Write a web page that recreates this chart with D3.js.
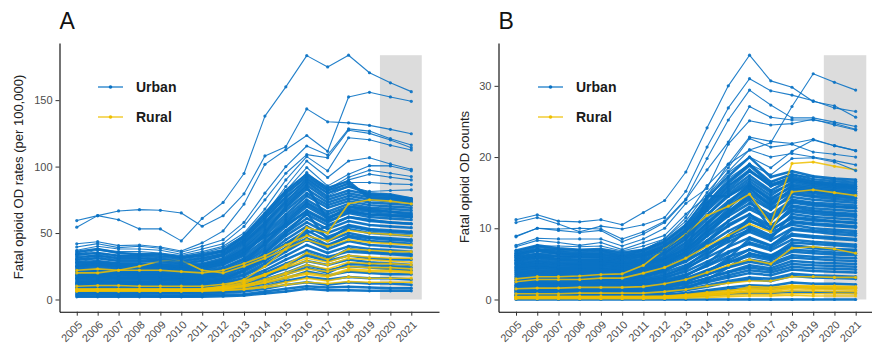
<!DOCTYPE html>
<html><head><meta charset="utf-8">
<script src="https://cdn.jsdelivr.net/npm/d3@7"></script>
<style>
body{margin:0;background:#fff}
svg{display:block}
text{font-family:"Liberation Sans",Arial,Helvetica,sans-serif}
</style>
</head><body>
<svg id="chart" width="872" height="351"></svg>
<script>
const years = [2005,2006,2007,2008,2009,2010,2011,2012,2013,2014,2015,2016,2017,2018,2019,2020,2021];
const panelLabels = ["A","B"];
const yTitles = ["Fatal opioid OD rates (per 100,000)","Fatal opioid OD counts"];
const legendLabels = ["Urban","Rural"];
const ticksRates = [0,50,100,150];
const ticksCounts = [0,10,20,30];
const shadeYears = [2019.5,2021.5];

// Urban counties with the highest rates (drawn individually)
const ratesUrbanHigh = [
[59.4,63.1,60,53.1,53.1,44.1,61,73,94.8,138,160,183.5,175,183.8,170.6,163,156.4],
[54.4,63.1,66.6,67.6,67.1,65.1,55.1,63,79.5,108,115,143.4,133.7,132.9,131,128,124.7],
[41.9,43.5,40.5,41,39.5,36.5,42.6,51.6,71.8,101.7,112.7,123.4,111.5,152.4,155.9,152.4,149.1],
[39.5,42,39,40,38.5,35.5,40,45,58,80,100,115.5,108.7,128.4,126.7,121,116.2],
[37,40,38,38,37,34,38,42,55,75,95,109,106.7,127.4,125,120,114.2],
[35,38,36,36,35,33,36,40,50,68,90,107.5,96.8,121.7,120.2,116,112.5],
[34,37,35,34,34,32,35,39,48,64,85,104.2,91.8,104.2,106.7,102,98],
[33,35,33,33,33,31,33,37,46,62,82,99.3,85.5,94.3,100.7,100.5,96.8],
[31,34,32,32,31,30,32,36,45,60,80,95.5,83,92,97.3,95,92.5],
[30,33,31,31,30,29,31,35,44,58,78,93.5,82,90,94.3,92,90],
[29,32,30,30,29,28,30,34,43,57,76,91,80,88,88,87,86.5],
[28,31,29,29,28,27,29,33,42,56,74,89,78,85,81.3,82,82.5]
];
// Remaining urban counties (dense band)
const ratesUrbanCore = [
[2,2,2,2,2,2,2,2.5,3,4.5,6,8,7,7,6.5,6.5,6.5],
[3,3,3,3,2.5,2.5,3,3.5,4,6,8,10,9,9.5,9,8.5,8.5],
[4,4.5,4,4,4,3.5,4,5,6,8,11,13,11,13,12,12,11],
[5,5.5,5,5.5,5,5,5,6,7.5,10,14,17,15,17,16,16,15],
[6,6,6.5,6,6,5.5,6,7,9,12,16,21,18,21,20,19,19],
[8,8.5,8,8,8,7.5,8,9,11,15,20,26,22,25,24,23,22],
[9,9.5,9,9,9.5,9,9,10.5,13,18,23,29,26,30,28,27,26],
[10,11,10.5,10,10,9.5,10,12,15,20,27,33,29,33,31,30,30],
[11,12,11,11.5,11,10.5,11,13,16,22,30,37,32,36,35,34,33],
[12,13,12,12,12,11,12,14,18,25,33,41,35,40,38,37,36],
[13,14,13,13,13,12,13,15,19,27,36,45,38,44,41,40,39],
[14,15,14,14,14,13,14,16,21,29,39,49,41,47,44,43,42],
[15,16,15,15.5,15,14,15,17,22,31,42,52,44,50,47,46,45],
[16,17.5,16,16,16,15,16,18,24,33,45,55,47,53,50,49,48],
[17,18,17,17,17,16,17,20,25,35,48,58,50,56,53,52,51],
[18,19,18,18,18,17,18,21,27,37,50,61,53,59,56,55,54],
[19,20.5,19,19,19,18,19,22,28,39,52,64,56,62,59,58,57],
[20,21,20,20,20,19,20,23,30,41,55,67,59,65,62,61,60],
[21,22,21,21,21,20,21,24,31,43,57,70,61,67,64,63,62],
[22,23,22,22,22,21,22,26,33,45,60,73,64,70,67,66,65],
[23,24,23,23,23,22,23,27,35,48,62,75,66,72,69,68,67],
[24,25.5,24,24,24,23,24,28,36,50,64,78,69,74,71,70,69],
[25,27,25,25,25,24,25,29,38,52,67,80,71,76,73,72,71],
[26,28,26,26,26,25,26,30,39,54,69,83,73,78,75,74,73],
[28,29,27,27,27,26,27,31,41,56,72,86,75,80,77,76,75],
[30,31,29,29,29,27,29,33,43,58,74,88,77,82,79,78,76],
[32,33,31,31,30,29,31,34,45,61,77,90,80,85,80,79,76],
[34,35,33,33,32,31,33,36,47,63,80,92,82,87,78,77,75],
[36,38,35,34,34,32,34,37,48,65,82,94,84,89,76,75,74],
[12,13,12,12,12,11,12,15,22,35,50,65,45,55,52,51,50],
[20,21,20,20,19,18,19,21,26,33,42,50,55,62,60,58,57],
[8,8.5,8,8,8,7.5,8,9.5,12,17,24,35,30,38,36,35,34],
[25,26,25,25,24,23,24,27,34,50,70,85,60,70,68,66,64],
[16,17,16,16,15,15,16,19,28,42,58,72,62,68,66,64,63],
[27,28,27,27,26,25,26,29,37,47,56,66,58,66,64,63,62],
[6.5,7,7,7,6.5,6,7,8,10,14,19,24,20,27,26,25,24],
[18,19,19,18,18,17,18,20,24,30,38,46,40,48,46,45,44]
];
const ratesRural = [
[7,7,7,7,7,7,7,8,10,13,17,20,18,23,22,22,21],
[6.8,7,7,7,6.8,6.8,7,7.5,9.5,12.5,16,19,17,22,21,21,20],
[7.3,7.3,7.3,7.3,7.3,7.3,7.4,8.5,11,14,19,23,21,25,24,24,23],
[10,10.5,10.5,10,10,10,10,11.5,14,19,24,29,26,31,30,29,28],
[6.5,6.6,6.6,6.6,6.5,6.5,6.6,7,8,10,13,16,14,17,16,16,16],
[22,23,22,22,22,21,20,22,27,33,41,48,44,52,50,49,48],
[20,20,22,25,29,29.5,22,20,25,31,38,45,40,45,43,42,41],
[7.5,7.6,7.6,7.6,7.6,7.5,8,10,15,25,38,54,50,72,75,74,72],
[7,7.1,7.1,7.1,7,7,7.1,8,10.5,15,20,26,23,28,27,27,26],
[7.8,7.8,7.8,7.8,7.8,7.8,8,9.5,13,19,25,31,28,33,32,31,31],
[6.2,6.2,6.2,6.2,6.2,6.2,6.3,6.8,7.5,9,11,13,12,13.5,13,13,13],
[7.6,7.7,7.7,7.7,7.7,7.6,7.8,9,12,18,26,35,30,38,37,36,36]
];
const countsUrbanHigh = [
[11.2,11.9,11,10.9,11.2,10.5,12.2,13.9,17.9,24.1,30,34.3,30.7,29.8,27.8,27.2,25.6],
[10.8,11.5,10.6,9.5,10.3,9.9,10.5,11.5,15.2,21.4,26.9,31,29.3,28.7,27.9,26.9,26.4],
[8.9,10,9.9,10,9.9,8.5,9.5,11,14.1,19.8,25.2,29.4,27.3,25.5,25.5,24.9,24.3],
[8.8,10,9.7,9.4,9.7,8.1,9.2,10.8,14,18.2,22.1,27.1,25.6,25.2,25.2,24.7,23.9],
[7.6,8.6,8.5,8.5,8.5,7.5,8.5,10,13.5,15.6,21.8,25.1,24.5,24.7,25.3,24.5,23.8],
[7.4,8.3,8,7.6,8,7,8,9,12,14.5,19,22.8,22.2,21.9,22.5,21.6,20.9],
[6.8,7.5,7.5,7.4,7.5,6.8,7.5,8.5,11.5,16,19,21,22,27.1,31.7,30.5,29.4],
[6.5,7,7,7,7,6,7,8.5,11,15,18.5,22.6,21.4,21.8,20.7,20.4,20],
[6.2,7,6.8,6.6,6.8,6,6.8,8,10.5,14.5,18,21,20,20.5,20,19.5,18.9],
[6,6.5,6.5,6.2,6.2,5.8,6.5,7.5,10,14,17.8,20,18.5,20.8,22.4,21.6,20.9],
[5.5,6.2,6,6,6,5.5,6,7,9.5,13.5,17,19,17.5,19.8,19.9,19.3,18.1],
[5.2,6,6,5.9,5.8,5.3,5.8,6.8,9,12.5,16,18,16.5,17.5,17.2,16.8,16.6]
];
const countsUrbanCore = [
[0,0,0,0,0,0,0,0,0,0,0,0,0,0,0,0,0],
[0.2,0.3,0.2,0.3,0.2,0.2,0.3,0.3,0.4,0.6,0.8,0.9,0.9,1.1,1,1,0.9],
[0.5,0.6,0.5,0.5,0.6,0.5,0.5,0.7,0.9,1.3,1.7,2,1.9,2.4,2.2,2.2,2.1],
[0.8,0.9,0.8,0.9,0.8,0.8,0.9,1,1.3,1.8,2.4,2.8,2.6,3.3,3.1,3,2.9],
[1.1,1.3,1.2,1.1,1.2,1.1,1.2,1.4,1.7,2.4,3.1,3.7,3.4,4.2,4,3.9,3.8],
[1.4,1.5,1.5,1.4,1.4,1.3,1.5,1.7,2.2,3,3.8,4.5,4.1,5,4.8,4.7,4.6],
[1.7,1.9,1.7,1.8,1.7,1.6,1.8,2.1,2.6,3.5,4.5,5.3,4.8,5.9,5.7,5.5,5.4],
[2,2.2,2.1,2,2.1,1.9,2.1,2.4,3,4.1,5.2,6.1,5.5,6.7,6.5,6.3,6.2],
[2.3,2.5,2.3,2.4,2.3,2.2,2.4,2.8,3.5,4.7,6,7,6.2,7.6,7.3,7.1,7],
[2.6,2.8,2.7,2.6,2.7,2.5,2.7,3.1,3.9,5.3,6.7,7.8,6.9,8.4,8.1,7.9,7.7],
[2.9,3.1,3,2.9,3,2.8,3,3.5,4.4,5.9,7.4,8.7,7.6,9.2,8.9,8.7,8.5],
[3.2,3.5,3.3,3.2,3.2,3,3.3,3.8,4.8,6.5,8.1,9.5,8.3,10,9.7,9.5,9.3],
[3.5,3.8,3.6,3.5,3.5,3.3,3.6,4.2,5.3,7.1,8.9,10.3,9,10.8,10.5,10.3,10.1],
[3.8,4.1,3.9,3.8,3.9,3.6,3.9,4.5,5.7,7.7,9.6,11.1,9.7,11.6,11.3,11,10.8],
[4.1,4.5,4.2,4.1,4.2,3.9,4.2,4.9,6.2,8.3,10.3,11.9,10.4,12.4,12,11.8,11.6],
[4.4,4.8,4.5,4.4,4.4,4.2,4.5,5.2,6.6,8.9,11,12.7,11.2,13.2,12.8,12.6,12.4],
[4.7,5.1,4.8,4.7,4.7,4.5,4.8,5.6,7.1,9.5,11.7,13.5,11.9,14,13.6,13.4,13.2],
[5,5.4,5.1,5,5,4.8,5.1,5.9,7.5,10.1,12.4,14.3,12.6,14.8,14.4,14.1,13.9],
[5.3,5.8,5.4,5.3,5.3,5.1,5.4,6.3,8,10.7,13.1,15.1,13.3,15.5,15.1,14.8,14.6],
[5.6,6.1,5.7,5.6,5.6,5.4,5.7,6.6,8.4,11.3,13.8,15.9,14,16,15.6,15.3,15.1],
[5.9,6.4,6,5.9,5.9,5.6,6,7,8.9,11.9,14.5,16.6,14.6,16.5,16,15.7,15.5],
[6.2,6.8,6.4,6.2,6.3,5.9,6.3,7.3,9.3,12.5,15.2,17.4,15.3,16.9,16.3,16,15.8],
[6.5,7.1,6.7,6.5,6.6,6.2,6.6,7.7,9.8,13.1,15.9,18.2,15.9,17.3,16.6,16.3,16.1],
[6.7,7.4,7,6.8,6.9,6.4,6.9,8,10.2,13.6,16.6,19,16.5,17.6,16.9,16.6,16.4],
[3,3.2,3.1,3,3,2.9,3.2,4,5.5,8,10.5,12,9.5,10.5,10,9.8,9.6],
[4.5,4.7,4.4,4.3,4.2,4,4.1,4.6,5.5,7,8.5,9.8,8.5,12,11.6,11.4,11.2],
[1.5,1.6,1.5,1.6,1.5,1.4,1.6,2,2.8,4,5.5,7,6,8,7.8,7.6,7.4],
[5.8,6,5.6,5.5,5.4,5,5.2,5.8,7,9.5,12,14,10,13,12.5,12.2,12],
[2.1,2.3,2.2,2.1,2.2,2,2.2,2.6,3.4,4.8,6.5,8,7.2,9,8.7,8.5,8.3],
[6.9,7.6,7.2,7,7.1,6.6,7,8.2,10.5,14.3,17.3,20,17.2,18,17.3,17,16.8],
[3.6,3.9,3.7,3.6,3.6,3.4,3.7,4.4,6,9,12,14.5,11,13.8,13.4,13.1,12.9],
[2.7,2.9,2.8,2.8,2.8,2.6,2.8,3.3,4.6,6.8,9,11,9.8,11.4,11.1,10.9,10.7],
[4.9,5.2,4.9,4.9,4.9,4.6,4.9,5.5,6.6,14.5,14.5,16.2,13.8,15.2,14.9,14.6,14.3],
[0.6,0.7,0.6,0.7,0.7,0.6,0.7,0.9,1.5,2.8,4.5,6.5,5.8,7.5,7.2,7,6.8],
[1.2,1.3,1.3,1.2,1.3,1.2,1.3,1.6,2.4,3.8,5.8,8.5,7.5,9.8,9.5,9.2,9],
[1.8,2,1.9,1.9,1.9,1.8,2,2.4,3.3,5,7.5,10,8.8,11,10.7,10.5,10.3],
[2.4,2.6,2.5,2.5,2.5,2.3,2.5,3,4.2,6.2,8.5,11.5,10.2,12.6,12.3,12,11.8],
[3.3,3.6,3.4,3.4,3.4,3.2,3.5,4.1,5.6,8.2,11,13,11.6,13.6,13.2,13,12.8],
[4.2,4.5,4.3,4.2,4.3,4,4.3,5,6.8,9.8,12.8,15.5,13.5,15,14.6,14.4,14.2],
[5.1,5.5,5.2,5.1,5.1,4.9,5.2,6,7.8,10.8,13.5,16.2,14.2,15.8,15.4,15.1,14.9],
[5.5,5.9,5.6,5.5,5.5,5.2,5.5,6.5,8.6,11.8,14.8,17,15,16.2,15.8,15.5,15.2],
[6,6.4,6.1,6,6,5.7,6.1,7.1,9.2,12.8,15.5,18,16,16.7,16.2,15.9,15.6],
[6.3,6.9,6.5,6.3,6.4,6,6.4,7.5,9.6,13.3,16.3,18.8,16.2,17,16.5,16.2,15.9],
[3.9,4.2,4,3.9,3.9,3.7,4,4.8,6.5,9.4,12.3,14.8,12.8,14.4,14,13.8,13.6],
[4.6,4.9,4.6,4.6,4.6,4.3,4.6,5.4,7.3,10.4,13.4,15.7,13,15.6,15.2,15,14.7],
[0.4,0.5,0.4,0.5,0.4,0.4,0.5,0.6,0.8,1.1,1.4,1.6,1.5,1.8,1.7,1.6,1.6],
[0.7,0.8,0.7,0.8,0.8,0.7,0.8,1,1.4,2,2.6,3.1,2.9,3.6,3.4,3.3,3.2],
[1,1.1,1,1.1,1,1,1.1,1.3,1.8,2.6,3.4,4.1,3.8,4.6,4.4,4.3,4.2],
[1.3,1.4,1.4,1.3,1.4,1.2,1.4,1.6,2.1,3,3.9,4.8,4.4,5.4,5.2,5.1,5],
[1.6,1.7,1.6,1.6,1.6,1.5,1.7,1.9,2.5,3.5,4.6,5.6,5.1,6.2,6,5.9,5.8],
[1.9,2.1,2,2,2,1.8,2,2.3,2.9,4,5.2,6.4,5.8,7,6.8,6.6,6.5]
];
const countsRural = [
[2.9,3.2,3.2,3.3,3.5,3.6,4.8,7.1,9.2,11.8,13.1,14.8,10.6,19.1,19.3,18.7,18.2],
[2.5,2.8,2.8,2.8,3,3,3.7,4.5,5.8,7.5,9,10.6,9.5,15.1,15.4,15,14.6],
[1.5,1.6,1.6,1.7,1.7,1.7,1.8,2.2,2.8,3.8,4.8,5.6,5,7.2,7.4,7.1,6.5],
[0.8,0.8,0.8,0.9,0.9,0.9,0.9,1.1,1.4,1.9,2.3,2.6,2.6,3.2,3.2,3.1,3.1],
[0.3,0.35,0.35,0.35,0.35,0.35,0.35,0.4,0.6,0.8,1,1.2,1.1,1.5,1.4,1.4,1.3],
[0.3,0.3,0.3,0.3,0.3,0.3,0.3,0.35,0.5,0.7,0.9,1,1,1.2,1.2,1.1,1.1],
[0.4,0.4,0.4,0.4,0.4,0.4,0.4,0.5,0.7,1,1.3,1.5,1.4,1.9,1.8,1.8,1.7],
[0.2,0.2,0.2,0.2,0.2,0.2,0.2,0.25,0.35,0.5,0.6,0.7,0.7,0.8,0.8,0.8,0.8],
[0.3,0.3,0.3,0.3,0.3,0.3,0.3,0.3,0.4,0.6,0.8,1.3,1.2,1.7,1.6,1.6,1.5],
[0.1,0.1,0.1,0.1,0.1,0.1,0.1,0.15,0.2,0.3,0.4,0.5,0.5,0.6,0.5,0.5,0.5],
[0.35,0.4,0.4,0.4,0.4,0.4,0.4,0.45,0.6,0.9,1.1,1.8,1.7,2,1.9,1.9,1.8],
[0.2,0.25,0.25,0.25,0.25,0.25,0.25,0.3,0.45,0.6,0.8,1.6,1.5,1.8,1.7,1.7,1.6]
];

const BLUE = "#0a72c4", YELLOW = "#efc000";
const svg = d3.select("#chart");

function panel(cfg) {
  const g = svg.append("g");
  const all = cfg.high.concat(cfg.core, cfg.rural).flat();
  const maxV = d3.max(all);
  const x = d3.scaleLinear().domain([2004.175, 2022.325]).range(cfg.xr);
  const y = d3.scaleLinear().domain([-0.05 * maxV, 1.05 * maxV]).range([311.7, 43]);

  g.append("rect")
    .attr("x", x(shadeYears[0])).attr("width", x(shadeYears[1]) - x(shadeYears[0]))
    .attr("y", y(maxV)).attr("height", y(0) - y(maxV))
    .attr("fill", "#dcdcdc");

  const line = d3.line().x((d, i) => x(years[i])).y(d => y(d));
  function drawSeries(data, color, op, sw) {
    const sg = g.append("g");
    data.forEach(s => {
      sg.append("path").attr("d", line(s)).attr("fill", "none")
        .attr("stroke", color).attr("stroke-width", sw).attr("stroke-opacity", op)
        .attr("stroke-linejoin", "round");
      sg.selectAll(null).data(s).enter().append("circle")
        .attr("cx", (d, i) => x(years[i])).attr("cy", d => y(d)).attr("r", 1.6)
        .attr("fill", color).attr("fill-opacity", op);
    });
  }
  drawSeries(cfg.core, BLUE, 0.95, 2.5);
  drawSeries(cfg.rural, YELLOW, 0.85, 1.6);
  drawSeries(cfg.high, BLUE, 0.9, 1.1);

  const xAxis = g.append("g").attr("transform", `translate(0,311.7)`)
    .call(d3.axisBottom(x).tickValues(years).tickFormat(d3.format("d")).tickSize(4).tickPadding(3).tickSizeOuter(0));
  xAxis.select(".domain").attr("stroke", "#000").attr("stroke-width", 1.1);
  xAxis.selectAll(".tick line").attr("stroke", "#333");
  xAxis.selectAll(".tick text")
    .attr("x", 0).attr("y", 0).attr("dy", "0.35em")
    .attr("transform", "translate(3,11) rotate(-45)")
    .style("text-anchor", "end").attr("fill", "#4d4d4d").style("font-size", "11px");

  const yAxis = g.append("g").attr("transform", `translate(${cfg.xr[0]},0)`)
    .call(d3.axisLeft(y).tickValues(cfg.ticks).tickSize(4).tickPadding(3).tickSizeOuter(0));
  yAxis.select(".domain").attr("stroke", "#000").attr("stroke-width", 1.1);
  yAxis.selectAll(".tick line").attr("stroke", "#333");
  yAxis.selectAll(".tick text").attr("fill", "#4d4d4d").style("font-size", "11px");

  g.append("text").attr("transform", `translate(${cfg.titleX},177) rotate(-90)`)
    .attr("text-anchor", "middle").attr("dy", "0.35em").style("font-size", "13px").attr("fill", "#222")
    .text(cfg.title);

  g.append("text").attr("x", cfg.xr[0]).attr("y", 29).style("font-size", "23px").attr("fill", "#111")
    .text(cfg.label);

  [BLUE, YELLOW].forEach((c, i) => {
    const ly = 87 + i * 30;
    g.append("line").attr("x1", cfg.legX).attr("x2", cfg.legX + 25).attr("y1", ly).attr("y2", ly)
      .attr("stroke", c).attr("stroke-width", 1.2);
    g.append("circle").attr("cx", cfg.legX + 12.5).attr("cy", ly).attr("r", 1.8).attr("fill", c);
    g.append("text").attr("x", cfg.legX + 38).attr("y", ly).attr("dy", "0.35em")
      .style("font-size", "14px").style("font-weight", "bold").attr("fill", "#1a1a1a")
      .text(legendLabels[i]);
  });
}

panel({high: ratesUrbanHigh, core: ratesUrbanCore, rural: ratesRural, xr: [59.5, 439], ticks: ticksRates,
  title: yTitles[0], titleX: 18, label: panelLabels[0], legX: 98});
panel({high: countsUrbanHigh, core: countsUrbanCore, rural: countsRural, xr: [498.5, 883.8], ticks: ticksCounts,
  title: yTitles[1], titleX: 464, label: panelLabels[1], legX: 538});
</script>
</body></html>
